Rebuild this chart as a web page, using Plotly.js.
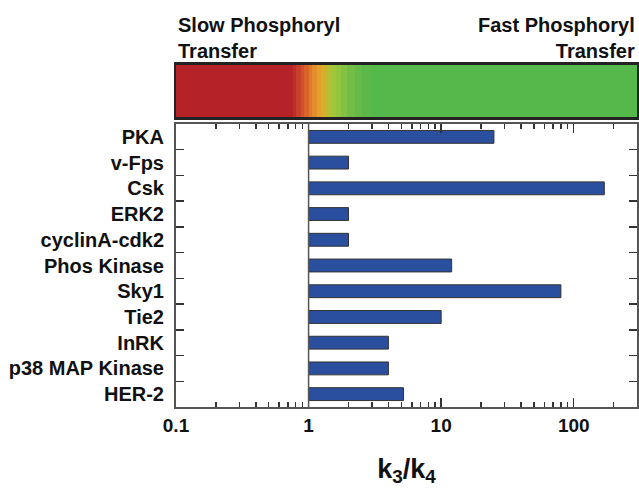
<!DOCTYPE html>
<html>
<head>
<meta charset="utf-8">
<script src="https://cdn.plot.ly/plotly-3.0.1.min.js"></script>
<style>html,body{margin:0;padding:0;background:#fff;}#chart{width:639px;height:489px;}</style>
</head>
<body>
<div id="chart"></div>
<script>
// Data
const kinases = ['PKA','v-Fps','Csk','ERK2','cyclinA-cdk2','Phos Kinase','Sky1','Tie2','InRK','p38 MAP Kinase','HER-2'];
const k3k4 = [25, 2, 170, 2, 2, 12, 80, 10, 4, 4, 5.2];
const barBase = 1;
const xTickVals = [0.1, 1, 10, 100];
const xTickText = ['0.1', '1', '10', '100'];
// color band (slow -> fast) edges in k3/k4 units and colours
const bandEdges = [0.1, 0.76, 0.81, 0.87, 0.93, 1.0, 1.07, 1.15, 1.23, 1.32, 1.41, 1.51, 1.62, 1.77, 1.96, 2.22, 2.55, 3.03, 300];
const bandColors = ['#b52228','#bf2f2a','#c8402b','#d0522b','#d8642a','#de7a2a','#e28e2b','#e2a02c','#d8ad2b','#c8b72e','#b2c034','#a2c63a','#92c43e','#82c142','#72be45','#65bb47','#5cb949','#54b84b'];

const bandIdx = bandColors.map((c, i) => i);
const cscale = bandColors.map((c, i) => [i / (bandColors.length - 1), c]);
const xr = [Math.log10(0.1), Math.log10(300)];
const font = 'Liberation Sans, Arial, Helvetica, sans-serif';

const traces = [
  {
    type: 'heatmap',
    x: bandEdges,
    y: [0, 1],
    z: [bandIdx],
    colorscale: cscale,
    showscale: false,
    xaxis: 'x2',
    yaxis: 'y2',
    hoverinfo: 'skip'
  },
  {
    type: 'bar',
    orientation: 'h',
    y: kinases,
    x: k3k4.map(v => v - barBase),
    base: barBase,
    width: 0.5,
    marker: {color: '#2a4f9f', line: {color: '#333', width: 1}},
    hoverinfo: 'skip'
  }
];

const layout = {
  width: 639,
  height: 489,
  margin: {l: 176, r: 2, t: 0, b: 0},
  paper_bgcolor: '#fff',
  plot_bgcolor: '#fff',
  showlegend: false,
  font: {family: font, color: '#111'},
  xaxis: {
    type: 'log',
    range: xr,
    domain: [0, 1],
    anchor: 'y',
    tickmode: 'array',
    tickvals: xTickVals,
    ticktext: xTickText,
    ticks: 'inside',
    ticklen: 9,
    tickwidth: 1.5,
    tickcolor: '#333',
    minor: {dtick: 'D1', ticks: 'inside', ticklen: 5, tickwidth: 1.5, tickcolor: '#333', showgrid: false},
    showgrid: false,
    zeroline: false,
    showline: true,
    linecolor: '#555',
    linewidth: 2,
    mirror: 'ticks',
    tickfont: {family: font, size: 19, color: '#111', weight: 'bold'},
    title: {text: 'k<sub>3</sub>/k<sub>4</sub>', font: {family: font, size: 27, color: '#111', weight: 'bold'}, standoff: 24}
  },
  yaxis: {
    type: 'category',
    categoryorder: 'array',
    categoryarray: kinases,
    autorange: 'reversed',
    domain: [0.1677, 0.7464],
    anchor: 'x',
    tickson: 'boundaries',
    ticks: 'inside',
    ticklen: 8,
    tickwidth: 1.5,
    tickcolor: '#333',
    showgrid: false,
    zeroline: false,
    showline: true,
    linecolor: '#555',
    linewidth: 2,
    mirror: 'ticks',
    ticklabelstandoff: 6,
    tickfont: {family: font, size: 20, color: '#111', weight: 'bold'}
  },
  xaxis2: {
    type: 'log',
    range: xr,
    domain: [0, 1],
    anchor: 'y2',
    showticklabels: false,
    ticks: '',
    showgrid: false,
    zeroline: false,
    showline: true,
    linecolor: '#222',
    linewidth: 2.5,
    mirror: true
  },
  yaxis2: {
    range: [0, 1],
    domain: [0.7607, 0.8671],
    anchor: 'x2',
    showticklabels: false,
    ticks: '',
    showgrid: false,
    zeroline: false,
    showline: true,
    linecolor: '#222',
    linewidth: 2.5,
    mirror: true
  },
  shapes: [
    {type: 'line', xref: 'x', yref: 'y domain', x0: barBase, x1: barBase, y0: 0, y1: 1, line: {color: '#555', width: 1.5}}
  ],
  annotations: [
    {xref: 'paper', yref: 'paper', x: 0, y: 1, yshift: -12, xanchor: 'left', yanchor: 'top', align: 'left', showarrow: false,
     text: 'Slow Phosphoryl<br>Transfer', font: {family: font, size: 20, color: '#111', weight: 'bold'}},
    {xref: 'paper', yref: 'paper', x: 1, y: 1, yshift: -12, xanchor: 'right', yanchor: 'top', align: 'right', showarrow: false,
     text: 'Fast Phosphoryl<br>Transfer', font: {family: font, size: 20, color: '#111', weight: 'bold'}}
  ]
};

Plotly.newPlot('chart', traces, layout, {displayModeBar: false, staticPlot: true});
</script>
</body>
</html>
